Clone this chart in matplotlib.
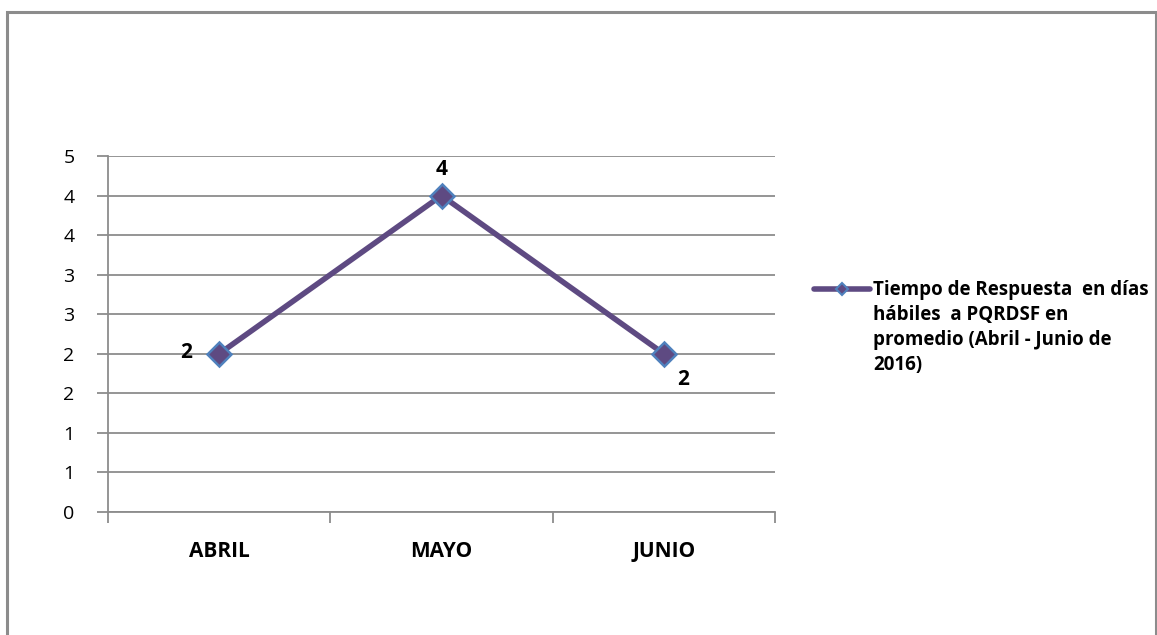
import matplotlib
matplotlib.use("Agg")
import matplotlib.pyplot as plt
from matplotlib.patches import Rectangle
from matplotlib.lines import Line2D

categories = ["ABRIL", "MAYO", "JUNIO"]
values = [2, 4, 2]
value_labels = ["2", "4", "2"]
y_ticks = [0, 0.5, 1, 1.5, 2, 2.5, 3, 3.5, 4, 4.5]
y_tick_labels = ["0", "1", "1", "2", "2", "3", "3", "4", "4", "5"]
series_lines = ["Tiempo de Respuesta  en días", "hábiles  a PQRDSF en",
                "promedio (Abril - Junio de", "2016)"]

plt.rcParams['font.family'] = ['Open Sans', 'DejaVu Sans']

line_color = "#5E4A82"
edge_color = "#4F81BD"
grid_color = "#8C8C8C"

W, H = 1157, 635
fig = plt.figure(figsize=(W / 100, H / 100), dpi=100)
fig.patches.append(Rectangle((7 / W, -0.1), (1156 - 7) / W, 1 - 12 / H + 0.1,
                             transform=fig.transFigure, fill=False,
                             edgecolor="#8C8C8C", linewidth=2.2))

ax = fig.add_axes([108 / W, 1 - 512 / H, (775 - 108) / W, (512 - 156) / H])
x = list(range(len(categories)))
ax.plot(x, values, color=line_color, linewidth=4, marker="D", markersize=12,
        markerfacecolor=line_color, markeredgecolor=edge_color, markeredgewidth=1.8,
        zorder=3)

ax.set_xlim(-0.5, len(categories) - 0.5)
ax.set_ylim(0, 4.5)
ax.set_yticks(y_ticks)
ax.set_yticklabels(y_tick_labels, fontsize=14)
ax.set_xticks(x)
ax.set_xticklabels(categories, fontsize=15, fontweight="bold")
ax.tick_params(axis="x", length=0, pad=21)
ax.tick_params(axis="y", length=8, color=grid_color, width=1.3, pad=16)
ax.set_xticks([-0.5, 0.5, 1.5, 2.5], minor=True)
ax.tick_params(axis="x", which="minor", length=8, color=grid_color, width=1.3)
ax.yaxis.grid(True, color=grid_color, linewidth=1.3)
ax.set_axisbelow(True)
for side in ["top", "right"]:
    ax.spines[side].set_visible(False)
for side in ["left", "bottom"]:
    ax.spines[side].set_color(grid_color)
    ax.spines[side].set_linewidth(1.3)

offsets = [(-33, 1), (0, 26), (19, -26)]
for xi, v, lab, (dx, dy) in zip(x, values, value_labels, offsets):
    ax.annotate(lab, (xi, v), xytext=(dx, dy), textcoords="offset pixels",
                ha="center", va="center", fontsize=15, fontweight="bold")

# legend entry drawn by hand so the key sits beside the first text line
key_y = 1 - 289 / H
fig.add_artist(Line2D([814 / W, 870 / W], [key_y, key_y], transform=fig.transFigure,
                      color=line_color, linewidth=4, solid_capstyle="round"))
fig.add_artist(Line2D([842 / W], [key_y], transform=fig.transFigure, marker="D",
                      markersize=6, markerfacecolor=line_color,
                      markeredgecolor=edge_color, markeredgewidth=1.5))
for i, txt in enumerate(series_lines):
    fig.text(873 / W, 1 - (290 + 25 * i) / H, txt, ha="left", va="center",
             fontsize=13.5, fontweight="bold")

fig.savefig("out.png", dpi=100)
